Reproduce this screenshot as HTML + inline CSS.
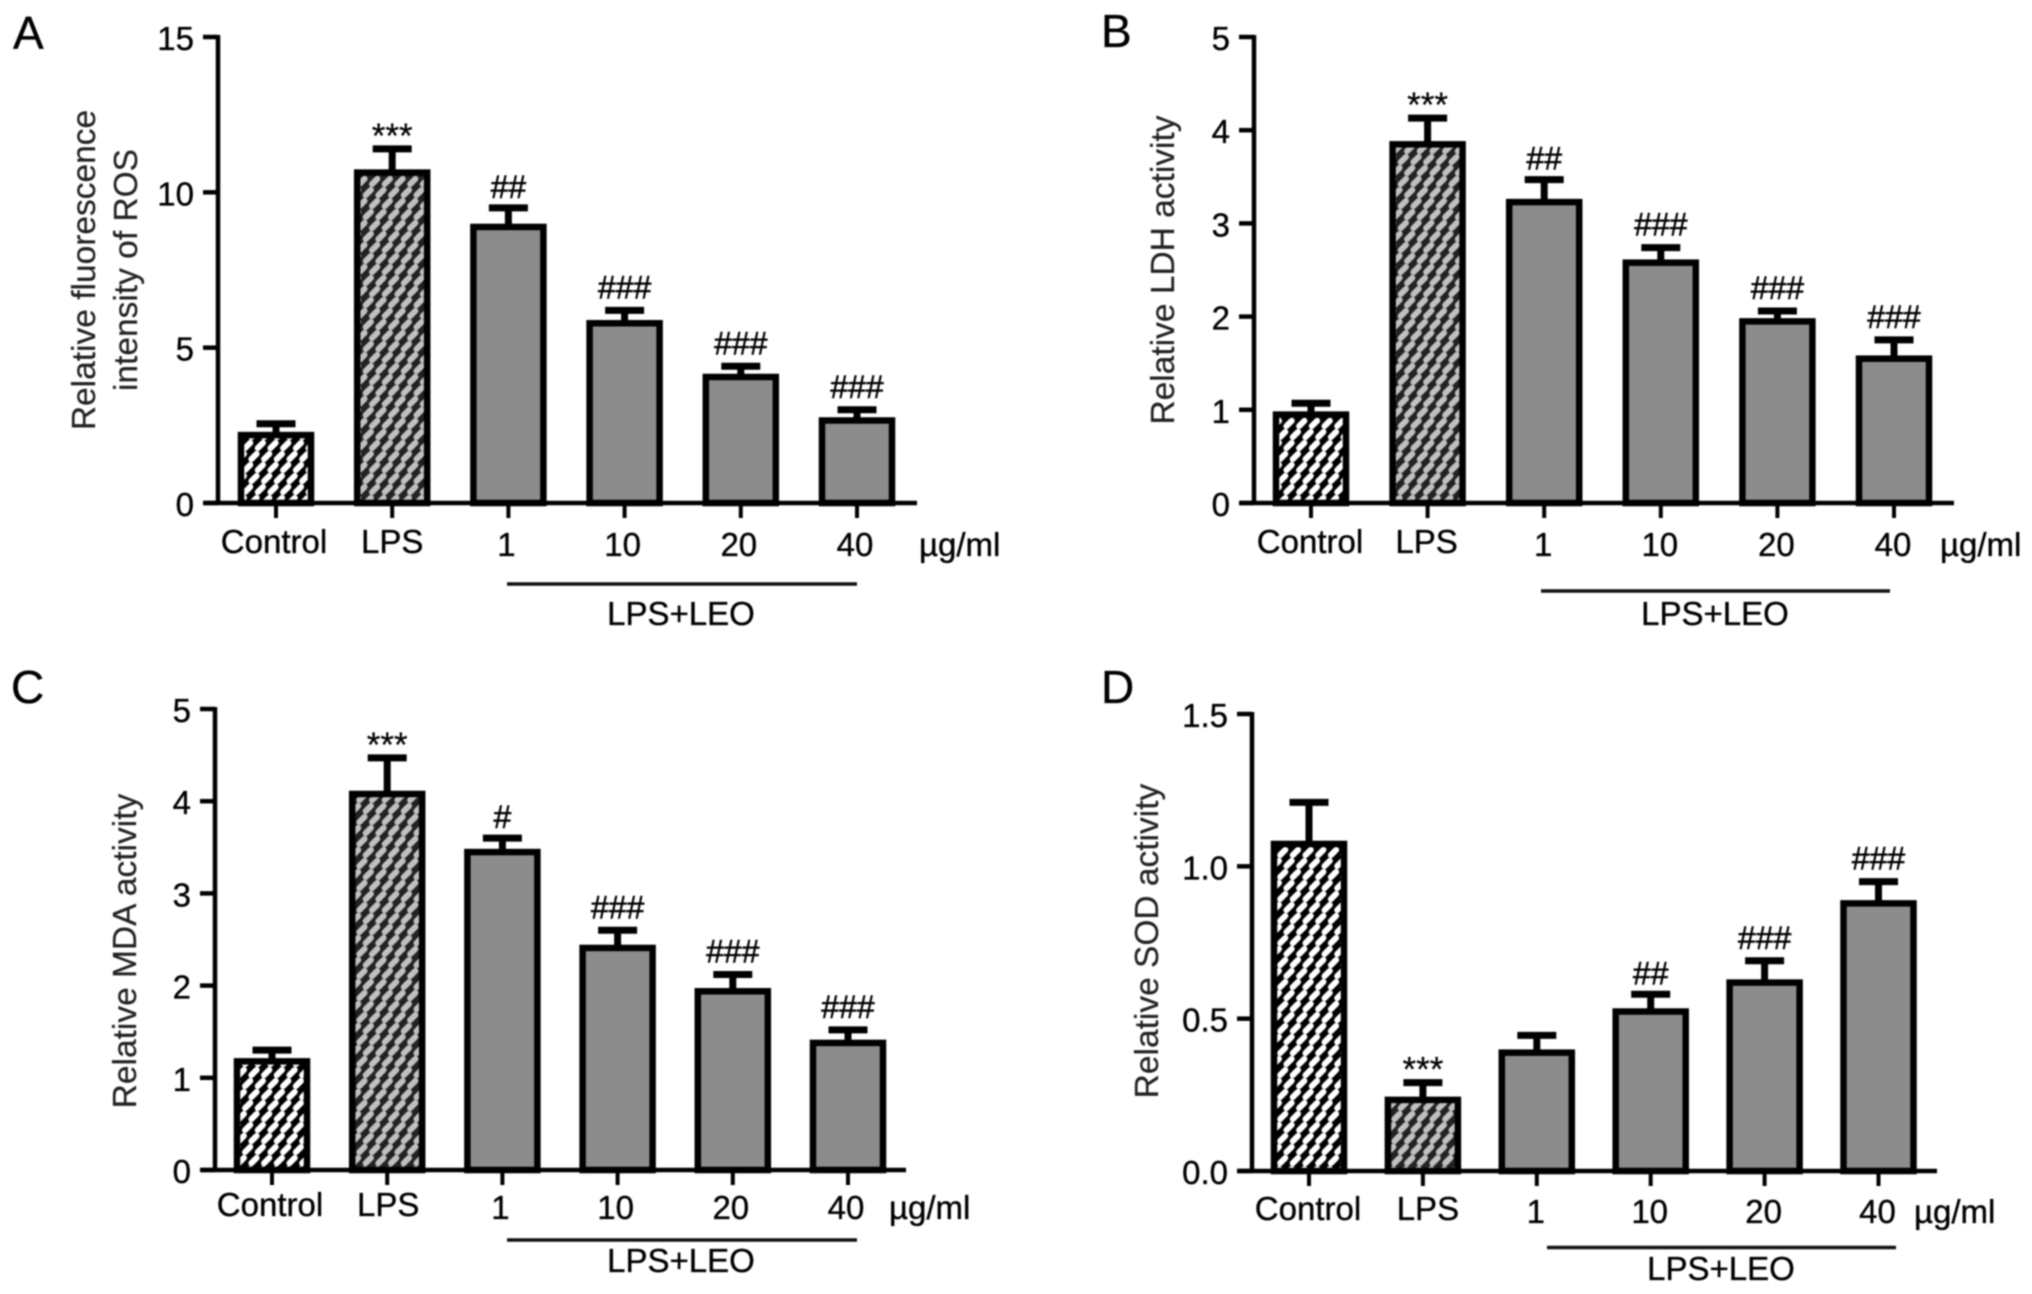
<!DOCTYPE html>
<html lang="en">
<head>
<meta charset="utf-8">
<title>Relative ROS, LDH, MDA and SOD levels</title>
<style>
  html, body { margin: 0; padding: 0; background: #fff; }
  body { width: 2032px; height: 1294px; overflow: hidden; }
  #figure { display: block; filter: blur(0.7px); }
  text { font-family: "Liberation Sans", Arial, sans-serif; font-size: 33px; fill: #000; stroke: #000; stroke-width: 0.35px; }
</style>
</head>
<body>
<svg id="figure" xmlns="http://www.w3.org/2000/svg" width="2032" height="1294" viewBox="0 0 2032 1294">
  <defs>
    <pattern id="hatch-control" patternUnits="userSpaceOnUse" width="12.7" height="22">
      <rect width="12.7" height="22" fill="#000000"/>
      <g stroke="#ffffff" stroke-width="6" stroke-linecap="round">
        <line x1="3.7" y1="8.1" x2="9" y2="2.9"/>
        <line x1="-2.65" y1="19.1" x2="2.65" y2="13.9"/>
        <line x1="10.05" y1="19.1" x2="15.35" y2="13.9"/>
      </g>
    </pattern>
    <pattern id="hatch-lps" patternUnits="userSpaceOnUse" width="12.7" height="22">
      <rect width="12.7" height="22" fill="#222222"/>
      <g stroke="#c0c0c0" stroke-width="6" stroke-linecap="round">
        <line x1="3.7" y1="8.1" x2="9" y2="2.9"/>
        <line x1="-2.65" y1="19.1" x2="2.65" y2="13.9"/>
        <line x1="10.05" y1="19.1" x2="15.35" y2="13.9"/>
      </g>
    </pattern>
  </defs>
</svg>
<script>
// ---- chart data ----
const categories = ['Control', 'LPS', '1', '10', '20', '40'];

const rosValues = [2.25, 10.7, 8.95, 5.85, 4.12, 2.72];
const rosErrorTops = [2.55, 11.4, 9.5, 6.2, 4.4, 3.0];
const rosMarks = ['', '***', '##', '###', '###', '###'];
const rosTicks = ['0', '5', '10', '15'];

const ldhValues = [0.97, 3.87, 3.25, 2.6, 1.97, 1.57];
const ldhErrorTops = [1.07, 4.13, 3.47, 2.74, 2.06, 1.75];
const ldhMarks = ['', '***', '##', '###', '###', '###'];
const ldhTicks = ['0', '1', '2', '3', '4', '5'];

const mdaValues = [1.2, 4.1, 3.47, 2.43, 1.96, 1.4];
const mdaErrorTops = [1.3, 4.47, 3.6, 2.6, 2.12, 1.52];
const mdaMarks = ['', '***', '#', '###', '###', '###'];
const mdaTicks = ['0', '1', '2', '3', '4', '5'];

const sodValues = [1.08, 0.24, 0.395, 0.53, 0.625, 0.885];
const sodErrorTops = [1.21, 0.29, 0.445, 0.58, 0.69, 0.95];
const sodMarks = ['', '***', '', '##', '###', '###'];
const sodTicks = ['0.0', '0.5', '1.0', '1.5'];

// ---- drawing ----
const svg = document.getElementById('figure');
const NS = 'http://www.w3.org/2000/svg';
const AXIS = '#000000';

function shape(parent, tag, name, attrs) {
  const el = document.createElementNS(NS, tag);
  
  
  Object.keys(attrs).forEach(function (k) { el.setAttribute(k, attrs[k]); });
  parent.appendChild(el);
  return el;
}
function label(parent, name, str, attrs) {
  const el = shape(parent, 'text', name, attrs);
  el.textContent = str;
  return el;
}

function drawPanel(p) {
  const g = shape(svg, 'g', 'panel-' + p.id, {});
  const maxValue = Number(p.ticks[p.ticks.length - 1]);
  const yScale = function (v) { return p.y0 - (v / maxValue) * (p.y0 - p.yTop); };
  const xScale = function (i) { return p.x0 + i * p.step; };

  label(g, 'panel-letter-' + p.id, p.letter, { x: p.letterX, y: p.letterY, style: 'font-size:46px' });

  p.values.forEach(function (v, i) {
    const cx = xScale(i);
    const top = yScale(v) + 2;
    const errY = yScale(p.errors[i]);
    const slug = categories[i].toLowerCase();
    const barGroup = shape(g, 'g', 'bar-group-' + slug, {});
    shape(barGroup, 'line', 'error-stem-' + slug, { x1: cx, x2: cx, y1: top, y2: errY, stroke: AXIS, 'stroke-width': 7 });
    shape(barGroup, 'line', 'error-cap-' + slug, { x1: cx - 19.5, x2: cx + 19.5, y1: errY, y2: errY, stroke: AXIS, 'stroke-width': 7 });
    const fill = i === 0 ? 'url(#hatch-control)' : (i === 1 ? 'url(#hatch-lps)' : '#8c8c8c');
    shape(barGroup, 'rect', 'bar-' + slug, {
      x: cx - 35, y: top, width: 70, height: Math.max(0, p.y0 - top),
      fill: fill, stroke: AXIS, 'stroke-width': 6.5
    });
    const mark = p.marks[i];
    if (mark) {
      if (mark === '***') {
        label(barGroup, 'significance-stars', mark, {
          x: cx, y: errY - 1, 'text-anchor': 'middle', style: 'font-size:35px;stroke-width:0.2px'
        });
      } else {
        label(barGroup, 'significance-hashes', mark, {
          x: cx, y: errY - (mark === '###' ? 12 : 10), 'text-anchor': 'middle', style: 'font-size:32px;stroke-width:0.5px'
        });
      }
    }
    shape(g, 'line', 'x-tick-' + slug, { x1: cx, x2: cx, y1: p.y0, y2: p.y0 + 15, stroke: AXIS, 'stroke-width': 4 });
    const isDose = i > 1;
    const dx = p.labelDx + (i === 1 ? p.lpsDx : 0);
    label(g, 'x-label-' + slug, categories[i], {
      x: cx + dx, y: isDose ? p.doseBase : p.catBase, 'text-anchor': 'middle'
    });
  });

  shape(g, 'line', 'y-axis', { x1: p.axisX, x2: p.axisX, y1: p.yTop - 2, y2: p.y0 + 2, stroke: AXIS, 'stroke-width': 4.5 });
  shape(g, 'line', 'x-axis', { x1: p.axisX - 14, x2: p.axisEnd, y1: p.y0, y2: p.y0, stroke: AXIS, 'stroke-width': 4.5 });

  p.ticks.forEach(function (t) {
    const y = yScale(Number(t));
    shape(g, 'line', 'y-tick-' + t, { x1: p.axisX - 15, x2: p.axisX, y1: y, y2: y, stroke: AXIS, 'stroke-width': 4.5 });
    label(g, 'y-tick-label-' + t, t, { x: p.axisX - 24, y: y + 13, 'text-anchor': 'end' });
  });

  p.title.forEach(function (line, i) {
    const px = p.titleX[i];
    label(g, 'y-axis-title-line-' + (i + 1), line, {
      x: 0, y: 0, 'text-anchor': 'middle', style: 'font-size:33.5px;fill:#222;stroke:#222;stroke-width:0.2px',
      transform: 'translate(' + px + ',' + p.titleY + ') rotate(-90)'
    });
  });

  label(g, 'dose-unit', '\u00b5g/ml', { x: p.unitX, y: p.doseBase });
  shape(g, 'line', 'treatment-bracket', { x1: p.ruleX1, x2: p.ruleX2, y1: p.ruleY, y2: p.ruleY, stroke: '#111111', 'stroke-width': 3.5 });
  label(g, 'treatment-label', 'LPS+LEO', { x: p.groupX, y: p.groupBase, 'text-anchor': 'middle' });
}

drawPanel({
  id: 'ros', letter: 'A', letterX: 13, letterY: 49,
  values: rosValues, errors: rosErrorTops, marks: rosMarks, ticks: rosTicks,
  axisX: 218, axisEnd: 917, yTop: 37, y0: 503, x0: 276, step: 116.2,
  title: ['Relative fluorescence', 'intensity of ROS'], titleX: [95, 137], titleY: 270,
  labelDx: -2, lpsDx: 2, catBase: 553, doseBase: 556, unitX: 919,
  ruleX1: 507, ruleX2: 857, ruleY: 584, groupX: 681, groupBase: 625
});
drawPanel({
  id: 'ldh', letter: 'B', letterX: 1101, letterY: 47,
  values: ldhValues, errors: ldhErrorTops, marks: ldhMarks, ticks: ldhTicks,
  axisX: 1254, axisEnd: 1954, yTop: 37, y0: 503, x0: 1311, step: 116.6,
  title: ['Relative LDH activity'], titleX: [1174], titleY: 270,
  labelDx: -1, lpsDx: 0, catBase: 553, doseBase: 556, unitX: 1940,
  ruleX1: 1541, ruleX2: 1890, ruleY: 591, groupX: 1715, groupBase: 625
});
drawPanel({
  id: 'mda', letter: 'C', letterX: 11, letterY: 703,
  values: mdaValues, errors: mdaErrorTops, marks: mdaMarks, ticks: mdaTicks,
  axisX: 215, axisEnd: 906, yTop: 709, y0: 1170, x0: 272, step: 115.2,
  title: ['Relative MDA activity'], titleX: [136], titleY: 951,
  labelDx: -2, lpsDx: 3, catBase: 1216, doseBase: 1219, unitX: 889,
  ruleX1: 507, ruleX2: 857, ruleY: 1240, groupX: 681, groupBase: 1272
});
drawPanel({
  id: 'sod', letter: 'D', letterX: 1101, letterY: 703,
  values: sodValues, errors: sodErrorTops, marks: sodMarks, ticks: sodTicks,
  axisX: 1252, axisEnd: 1937, yTop: 714, y0: 1171, x0: 1309, step: 113.9,
  title: ['Relative SOD activity'], titleX: [1158], titleY: 941,
  labelDx: -1, lpsDx: 6, catBase: 1220, doseBase: 1223, unitX: 1914,
  ruleX1: 1547, ruleX2: 1896, ruleY: 1247.5, groupX: 1721, groupBase: 1280
});
</script>
</body>
</html>
